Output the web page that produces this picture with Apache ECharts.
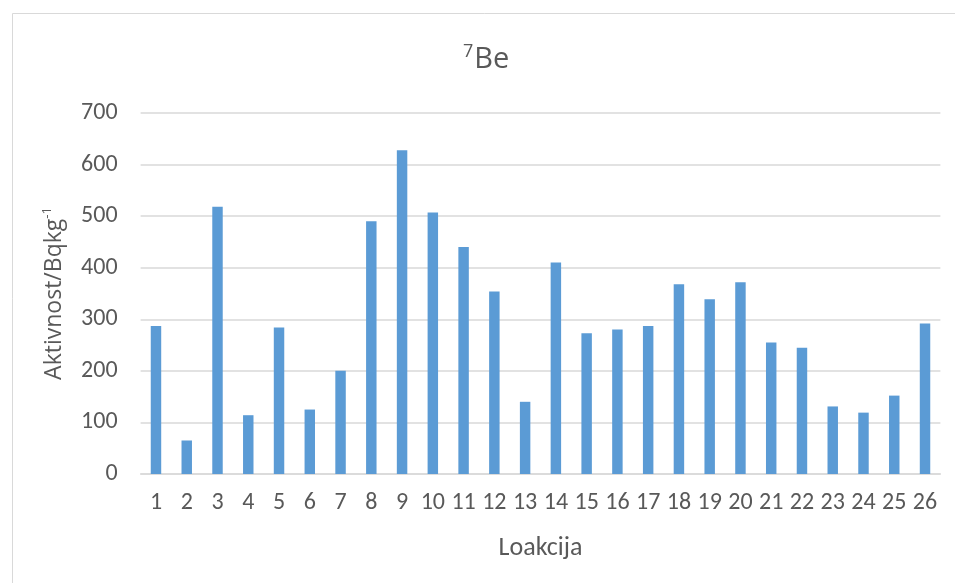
<!DOCTYPE html>
<html><head><meta charset="utf-8">
<script src="https://cdn.jsdelivr.net/npm/echarts@6/dist/echarts.min.js"></script>
<style>html,body{margin:0;padding:0;background:#fff}#c{width:955px;height:583px}</style>
</head><body><div id="c"></div>
<script>
const categories = ['1','2','3','4','5','6','7','8','9','10','11','12','13','14','15','16','17','18','19','20','21','22','23','24','25','26'];
const values = [287, 65, 518, 114, 284, 125, 200, 490, 628, 507, 440, 354, 140, 410, 273, 280, 287, 368, 339, 372, 255, 245, 131, 119, 152, 292];
const yTicks = [0, 700, 100];

const narrow = 'Carlito, "Liberation Sans Narrow", "Liberation Sans", sans-serif';
const wide = '"Open Sans", "Liberation Sans", sans-serif';
const chart = echarts.init(document.getElementById('c'));
chart.setOption({
  backgroundColor: '#fff',
  animation: false,
  graphic: [{
    type: 'rect', shape: {x: 12.5, y: 13.5, width: 960, height: 600},
    style: {fill: 'none', stroke: '#d9d9d9', lineWidth: 1}, silent: true
  }],
  title: {
    text: '{sup|7}{b|Be}',
    left: 458, top: 38,
    textStyle: {
      fontFamily: wide, fontWeight: 'normal', color: '#595959',
      rich: {
        sup: {fontSize: 18, color: '#595959', fontFamily: wide, fontWeight: 'normal', verticalAlign: 'top', padding: [0, 1, 16, 0]},
        b: {fontSize: 29, color: '#595959', fontFamily: wide, fontWeight: 'normal'}
      }
    }
  },
  grid: {left: 140.6, right: 14.6, top: 113, bottom: 109},
  xAxis: {
    type: 'category', data: categories,
    name: 'Loakcija', nameLocation: 'middle', nameGap: 61,
    nameTextStyle: {fontSize: 26, color: '#595959', fontFamily: narrow},
    axisLine: {lineStyle: {color: '#d9d9d9', width: 1.5}},
    axisTick: {show: false},
    axisLabel: {interval: 0, hideOverlap: false, fontSize: 24, color: '#595959', fontFamily: narrow, margin: 17}
  },
  yAxis: {
    type: 'value', min: yTicks[0], max: yTicks[1], interval: yTicks[2],
    name: 'Aktivnost/Bqkg{sup|-1}', nameLocation: 'middle', nameGap: 73,
    nameTextStyle: {fontSize: 23, color: '#595959', fontFamily: wide,
      rich: {sup: {fontSize: 13, color: '#595959', fontFamily: wide, verticalAlign: 'top', padding: [0, 0, 14, 0]}}},
    axisLine: {show: false}, axisTick: {show: false},
    axisLabel: {fontSize: 24, color: '#595959', fontFamily: narrow, margin: 23},
    splitLine: {lineStyle: {color: '#d9d9d9', width: 1.5}}
  },
  series: [{
    type: 'bar', data: values, barWidth: '34%',
    itemStyle: {color: '#5b9bd5'}
  }]
});
</script></body></html>
